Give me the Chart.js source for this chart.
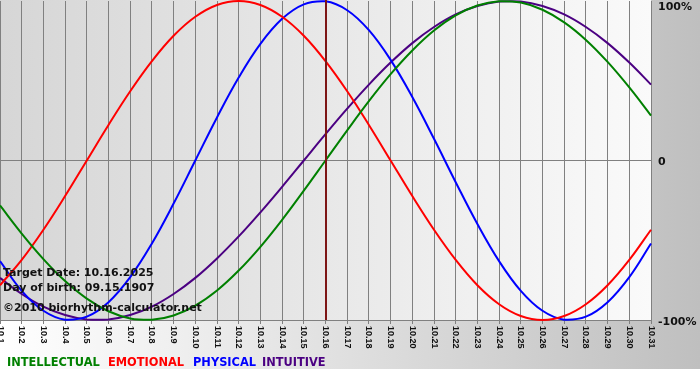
<!DOCTYPE html>
<html>
<head>
<meta charset="utf-8">
<script src="https://cdn.jsdelivr.net/npm/chart.js@4.4.1/dist/chart.umd.min.js"></script>
<style>
html,body{margin:0;padding:0;background:#fff;}
canvas{display:block;}
</style>
</head>
<body>
<canvas id="c" width="700" height="380"></canvas>
<script>
const days = ["10.1","10.2","10.3","10.4","10.5","10.6","10.7","10.8","10.9","10.10","10.11","10.12","10.13","10.14","10.15","10.16","10.17","10.18","10.19","10.20","10.21","10.22","10.23","10.24","10.25","10.26","10.27","10.28","10.29","10.30","10.31"];
const intellectual = [-28.2,-45.8,-61.8,-75.6,-86.6,-94.5,-99.0,-99.9,-97.2,-91.0,-81.5,-69.0,-54.1,-37.2,-18.9,0,18.9,37.2,54.1,69.0,81.5,91.0,97.2,99.9,99.0,94.5,86.6,75.6,61.8,45.8,28.2];
const emotional = [-78.2,-62.3,-43.4,-22.3,0,22.3,43.4,62.3,78.2,90.1,97.5,100,97.5,90.1,78.2,62.3,43.4,22.3,0,-22.3,-43.4,-62.3,-78.2,-90.1,-97.5,-100,-97.5,-90.1,-78.2,-62.3,-43.4];
const physical = [-63.1,-81.7,-94.2,-99.8,-97.9,-88.8,-73.1,-52.0,-27.0,0,27.0,52.0,73.1,88.8,97.9,99.8,94.2,81.7,63.1,39.8,13.6,-13.6,-39.8,-63.1,-81.7,-94.2,-99.8,-97.9,-88.8,-73.1,-52.0];
const intuitive = [-73.6,-83.7,-91.6,-96.9,-99.7,-99.7,-96.9,-91.6,-83.7,-73.6,-61.4,-47.6,-32.5,-16.5,0,16.5,32.5,47.6,61.4,73.6,83.7,91.6,96.9,99.7,99.7,96.9,91.6,83.7,73.6,61.4,47.6];
const seriesNames = ["INTELLECTUAL","EMOTIONAL","PHYSICAL","INTUITIVE"];
const yTickValues = [100, 0, -100];
const yTickLabels = ["100%", "0", "-100%"];
const targetDay = "10.16";
const infoLines = ["Target Date: 10.16.2025", "Day of birth: 09.15.1907", "\u00A92010 biorhythm-calculator.net"];

const COLORS = ["#008000", "#ff0000", "#0000ff", "#4b0082"];
const TEXT_FONT = "bold 11px 'DejaVu Sans', Verdana, sans-serif";
const LEGEND_FONT = "bold 11.4px 'DejaVu Sans', Verdana, sans-serif";
const LEGEND_X = [7, 108, 193, 262];

const bgPlugin = {
  id: 'bg',
  beforeDraw(chart) {
    const ctx = chart.ctx, a = chart.chartArea;
    ctx.save();
    const g = ctx.createLinearGradient(0, 0, chart.width, 0);
    g.addColorStop(0, '#ffffff');
    g.addColorStop(1, '#bfbfbf');
    ctx.fillStyle = g;
    ctx.fillRect(0, 0, chart.width, 369);
    ctx.fillStyle = '#ffffff';
    ctx.fillRect(0, 369, chart.width, chart.height - 369);
    const p = ctx.createLinearGradient(a.left, 0, a.right, 0);
    p.addColorStop(0, '#d6d6d6');
    p.addColorStop(1, '#fafafa');
    ctx.fillStyle = p;
    ctx.fillRect(a.left, 0, a.right - a.left, a.bottom);
    ctx.restore();
  },
  afterDatasetsDraw(chart) {
    const ctx = chart.ctx, a = chart.chartArea;
    const xs = chart.scales.x;
    ctx.save();
    const tx = Math.round(xs.getPixelForValue(days.indexOf(targetDay)));
    ctx.strokeStyle = '#7d1515';
    ctx.lineWidth = 2;
    ctx.beginPath();
    ctx.moveTo(tx, 0);
    ctx.lineTo(tx, a.bottom);
    ctx.stroke();
    ctx.font = TEXT_FONT;
    ctx.fillStyle = '#111';
    ctx.textAlign = 'left';
    ctx.textBaseline = 'alphabetic';
    const base = [276, 291, 311];
    infoLines.forEach((t, i) => ctx.fillText(t, 3, base[i]));
    ctx.restore();
  },
  afterDraw(chart) {
    const ctx = chart.ctx, a = chart.chartArea;
    const xs = chart.scales.x, ys = chart.scales.y;
    ctx.save();
    ctx.font = "bold 9px 'Liberation Sans', Arial, sans-serif";
    ctx.fillStyle = '#111';
    ctx.textAlign = 'left';
    ctx.textBaseline = 'middle';
    days.forEach((d, i) => {
      const x = xs.getPixelForValue(i);
      ctx.save();
      ctx.translate(x, a.bottom + 6);
      ctx.rotate(Math.PI / 2);
      ctx.fillText(d, 0, 0);
      ctx.restore();
    });
    ctx.font = TEXT_FONT;
    ctx.textBaseline = 'middle';
    yTickValues.forEach((v, i) => {
      const y = Math.max(ys.getPixelForValue(v) + 2, 7);
      ctx.fillText(yTickLabels[i], a.right + 7, y);
    });
    ctx.font = LEGEND_FONT;
    ctx.textBaseline = 'alphabetic';
    chart.data.datasets.forEach((ds, i) => {
      ctx.fillStyle = ds.borderColor;
      ctx.fillText(ds.label, LEGEND_X[i], 366);
    });
    ctx.restore();
  }
};

const seriesData = [intellectual, emotional, physical, intuitive];
new Chart(document.getElementById('c'), {
  type: 'line',
  data: {
    labels: days,
    datasets: seriesNames.map((n, i) => ({
      label: n,
      data: seriesData[i],
      borderColor: COLORS[i],
      backgroundColor: COLORS[i],
      borderWidth: 2,
      pointRadius: 0,
      tension: 0.4,
      fill: false,
      clip: 4
    }))
  },
  options: {
    responsive: false,
    animation: false,
    events: [],
    layout: { padding: { top: 1, left: 0, right: 0, bottom: 0 } },
    plugins: { legend: { display: false }, tooltip: { enabled: false } },
    scales: {
      x: {
        type: 'category',
        offset: false,
        grid: { color: '#808080', lineWidth: 1, drawTicks: true, tickLength: 4, tickColor: '#808080', offset: false },
        border: { display: true, color: '#808080' },
        ticks: { display: false, autoSkip: false },
        afterFit(s) { s.height = 60; }
      },
      y: {
        position: 'right',
        min: -100,
        max: 100,
        grid: {
          color: (c) => (c.tick && c.tick.value === 0 ? '#808080' : 'rgba(0,0,0,0)'),
          drawTicks: false
        },
        border: { display: false },
        ticks: { display: false, stepSize: 100 },
        afterFit(s) { s.width = 49; }
      }
    }
  },
  plugins: [bgPlugin]
});
</script>
</body>
</html>
